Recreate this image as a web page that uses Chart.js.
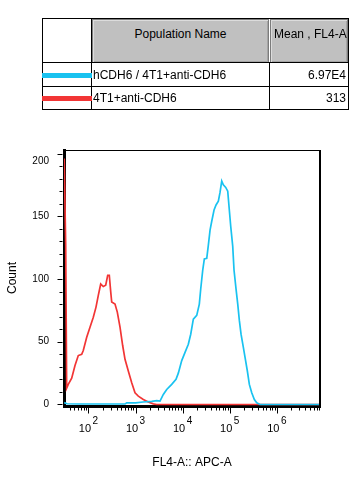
<!DOCTYPE html>
<html><head><meta charset="utf-8">
<script src="https://cdn.jsdelivr.net/npm/chart.js@4.4.1/dist/chart.umd.min.js"></script>
<style>
html,body{margin:0;padding:0;background:#fff;width:359px;height:487px;overflow:hidden;font-family:"Liberation Sans",Arial,sans-serif;}
#c{position:absolute;left:0;top:0;}
.abs{position:absolute;box-sizing:border-box;}
.txt{font-size:12px;line-height:14px;color:#000;white-space:nowrap;overflow:hidden;}
</style></head><body>
<canvas id="c" width="359" height="487"></canvas>
<div id="tbl"></div>
<script>
// ---- data ----
const headerLabels = ["Population Name", "Mean , FL4-A"];
const seriesNames = ["hCDH6 / 4T1+anti-CDH6", "4T1+anti-CDH6"];
const meanValues = ["6.97E4", "313"];
const xTitle = "FL4-A:: APC-A";
const yTitle = "Count";
const yTicks = [0, 50, 100, 150, 200];
const xDecades = [2, 3, 4, 5, 6];

const blueX = [30.5, 35, 60, 600, 647, 1000, 1436, 2200, 2806, 3296, 3873, 4571, 5838, 7206, 8066, 9526, 11195, 13151, 14785, 16800, 19830, 22510, 24100, 26590, 28760, 32360, 34990, 38020, 41300, 46230, 50960, 57020, 61920, 67290, 72780, 81800, 90220, 97520, 104400, 115200, 122800, 135500, 147200, 159200, 172900, 193600, 210300, 235400, 259500, 291700, 331300, 372300, 437500, 8.2e6];
const blueCount = [1.5, 0.6, 0.4, 0.5, 1.3, 1.3, 2, 2.5, 3, 2.7, 8, 12, 16, 20, 25, 35, 41.5, 48, 56, 68, 71, 80, 92, 107, 116, 116.5, 127, 139, 146, 155, 159, 162, 169, 178, 175, 173, 170, 155, 142, 126, 107, 92, 80, 67, 56, 45.5, 37.5, 26.7, 16, 9.3, 4, 1.3, 0, 0];

const redX = [30.5, 32.8, 34.4, 37.2, 44, 51.7, 60.7, 71.7, 77.5, 91.6, 107.6, 126.5, 144.3, 161.5, 181.6, 206.2, 231.8, 255.6, 276.4, 296, 310.9, 365.2, 408.7, 466.6, 532.3, 595.6, 699.8, 826.5, 971, 1141, 1457, 1860, 2376, 2800, 8.2e6];
const redCount = [196, 127, 13, 16, 21, 31, 39, 40, 43, 53.5, 61.6, 69.6, 77.6, 87, 96, 94, 95, 103, 103, 90, 81.6, 80, 73.6, 61.6, 46.8, 36, 26.7, 17.4, 9.3, 6.7, 4, 2, 0.5, 0, 0];

// ---- styles ----
const COLORS = ["#19c2f0", "#f23535"];
const FONT = '"Liberation Sans", Arial, sans-serif';

// ---- table ----
const tbl = document.getElementById('tbl');
function add(style, cls, text) {
  const d = document.createElement('div');
  d.className = 'abs' + (cls ? ' ' + cls : '');
  d.style.cssText = style;
  if (text !== undefined) d.textContent = text;
  tbl.appendChild(d);
  return d;
}
add('left:42px;top:18px;width:307px;height:92px;border:1px solid #000;');
add('left:92px;top:19px;width:177px;height:44px;background:#c0c0c0;border:1px solid #7c7c7c;box-shadow:inset 1px 1px 0 #dcdcdc, inset -1px -1px 0 #a4a4a4;');
add('left:270px;top:19px;width:78px;height:44px;background:#c0c0c0;border:1px solid #7c7c7c;box-shadow:inset 1px 1px 0 #dcdcdc, inset -1px -1px 0 #a4a4a4;');
add('left:42px;top:62px;width:307px;height:1px;background:#000;');
add('left:42px;top:86px;width:307px;height:1px;background:#000;');
add('left:91px;top:18px;width:1px;height:92px;background:#000;');
add('left:269px;top:62px;width:1px;height:48px;background:#000;');
add('left:92px;top:27px;width:177px;height:14px;text-align:center;', 'txt', headerLabels[0]);
add('left:274px;top:27px;width:73px;height:14px;text-align:left;', 'txt', headerLabels[1]);
const rowCenters = [75, 98];
seriesNames.forEach((name, i) => {
  const cy = rowCenters[i];
  add('left:42px;top:' + (cy - 2) + 'px;width:50px;height:4.5px;background:' + COLORS[i] + ';');
  add('left:93px;top:' + (cy - 7) + 'px;width:175px;height:14px;', 'txt', name);
  add('left:271px;top:' + (cy - 7) + 'px;width:75px;height:14px;text-align:right;', 'txt', meanValues[i]);
});

// ---- chart ----
const decoPlugin = {
  id: 'deco',
  afterDraw(chart) {
    const {ctx, chartArea: a, scales: {x, y}} = chart;
    ctx.save();
    ctx.strokeStyle = '#000';
    ctx.fillStyle = '#000';
    // top and right frame
    ctx.lineWidth = 1;
    ctx.beginPath(); ctx.moveTo(a.left, a.top + 0.5); ctx.lineTo(a.right + 1, a.top + 0.5); ctx.stroke();
    ctx.lineWidth = 2;
    ctx.beginPath(); ctx.moveTo(a.right, a.top); ctx.lineTo(a.right, a.bottom + 1.5); ctx.stroke();
    // x ticks (log minor/major)
    ctx.lineWidth = 1;
    const base = a.bottom + 1.5;
    for (let e = 1; e <= 6; e++) {
      for (let m = 1; m <= 9; m++) {
        const v = m * Math.pow(10, e);
        if (v < x.min || v > x.max) continue;
        const px = Math.round(x.getPixelForValue(v)) + 0.5;
        const len = m === 1 ? 6 : 3;
        ctx.beginPath(); ctx.moveTo(px, base); ctx.lineTo(px, base + len); ctx.stroke();
      }
    }
    // x labels 10^n
    xDecades.forEach(e => {
      const px = x.getPixelForValue(Math.pow(10, e));
      ctx.font = '11px ' + FONT;
      ctx.textAlign = 'right'; ctx.textBaseline = 'alphabetic';
      ctx.fillText('10', px + 2.5, a.bottom + 26);
      ctx.font = '10px ' + FONT;
      ctx.textAlign = 'left';
      ctx.fillText(String(e), px + 4, a.bottom + 17.5);
    });
    // y ticks
    const lx = a.left - 1.5;
    for (let v = 0; v <= 200; v += 10) {
      const py = Math.round(y.getPixelForValue(v)) + 0.5;
      const len = v % 50 === 0 ? 5 : 3;
      ctx.beginPath(); ctx.moveTo(lx, py); ctx.lineTo(lx - len, py); ctx.stroke();
    }
    // y labels (kept inside the plot height, as in the original)
    ctx.font = '10px ' + FONT;
    ctx.textAlign = 'right'; ctx.textBaseline = 'middle';
    yTicks.forEach(v => {
      const py = Math.max(y.getPixelForValue(v), a.top + 11);
      ctx.fillText(String(v), a.left - 15, py);
    });
    ctx.restore();
  }
};

Chart.defaults.font.family = FONT;
Chart.defaults.color = '#000';

new Chart(document.getElementById('c'), {
  type: 'line',
  data: {
    datasets: [
      { label: seriesNames[0], data: blueX.map((v, i) => ({x: v, y: blueCount[i]})),
        borderColor: COLORS[0], borderWidth: 1.7, pointRadius: 0, tension: 0, fill: false },
      { label: seriesNames[1], data: redX.map((v, i) => ({x: v, y: redCount[i]})),
        borderColor: COLORS[1], borderWidth: 1.7, pointRadius: 0, tension: 0, fill: false }
    ]
  },
  options: {
    responsive: false,
    animation: false,
    devicePixelRatio: 1,
    layout: { padding: { left: 0, top: 150, right: 39, bottom: 0 } },
    plugins: { legend: { display: false }, tooltip: { enabled: false } },
    scales: {
      x: {
        type: 'logarithmic', min: 30.2, max: 8.2e6,
        grid: { display: false, drawTicks: false },
        border: { display: true, width: 3, color: '#000' },
        ticks: { display: false },
        afterBuildTicks: s => { s.ticks = xDecades.map(e => ({value: Math.pow(10, e)})); },
        afterFit: s => { s.height = 81; },
        title: { display: true, text: xTitle, font: { size: 12 }, padding: { top: 0, bottom: 17 } }
      },
      y: {
        type: 'linear', min: -1.2, max: 202.8,
        grid: { display: false, drawTicks: false },
        border: { display: true, width: 3, color: '#000' },
        ticks: { display: false },
        afterBuildTicks: s => { s.ticks = yTicks.map(v => ({value: v})); },
        afterFit: s => { s.width = 64; },
        title: { display: true, text: yTitle, font: { size: 12 }, padding: { top: 5, bottom: 0 } }
      }
    }
  },
  plugins: [decoPlugin]
});
</script>
</body></html>
